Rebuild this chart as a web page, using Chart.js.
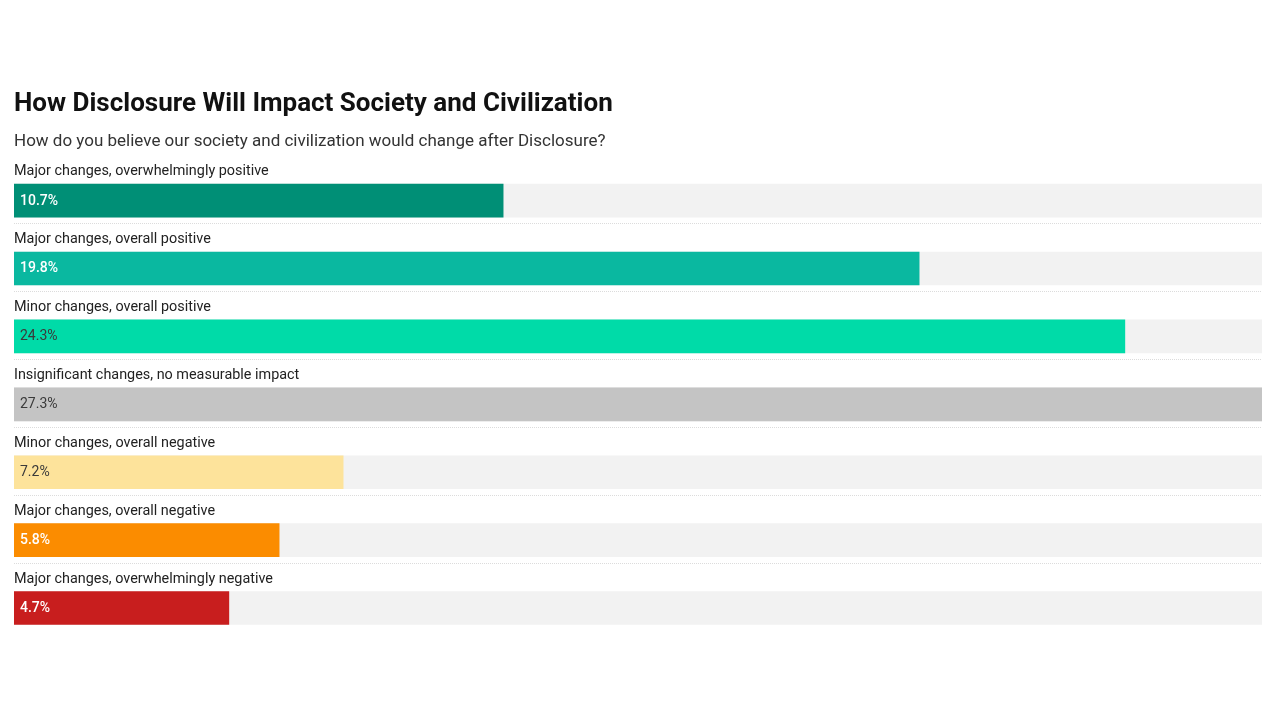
<!DOCTYPE html>
<html>
<head>
<meta charset="utf-8">
<script src="https://cdn.jsdelivr.net/npm/chart.js@4.4.1/dist/chart.umd.min.js"></script>
<style>
html,body{margin:0;padding:0;background:#fff;}
#wrap{position:relative;width:1280px;height:720px;}
</style>
</head>
<body>
<div id="wrap"><canvas id="c" width="1280" height="720"></canvas></div>
<script>
const categories = [
  "Major changes, overwhelmingly positive",
  "Major changes, overall positive",
  "Minor changes, overall positive",
  "Insignificant changes, no measurable impact",
  "Minor changes, overall negative",
  "Major changes, overall negative",
  "Major changes, overwhelmingly negative"
];
const values = [10.7, 19.8, 24.3, 27.3, 7.2, 5.8, 4.7];
const barColors = ["#008f76", "#0ab8a0", "#00dba8", "#c4c4c4", "#fde39b", "#fb8c00", "#c81e1e"];
const valueTextColors = ["#ffffff", "#ffffff", "#3a3a3a", "#3a3a3a", "#3a3a3a", "#ffffff", "#ffffff"];
const valueTextWeights = ["500", "500", "400", "400", "400", "500", "500"];

const maxValue = Math.max(...values);
const trackValues = categories.map(() => maxValue);

const rowPlugin = {
  id: 'rowDecor',
  afterDatasetsDraw(chart) {
    const ctx = chart.ctx;
    const y = chart.scales.y;
    const x = chart.scales.x;
    const area = chart.chartArea;
    ctx.save();
    categories.forEach((cat, i) => {
      const cy = y.getPixelForValue(i);
      ctx.font = '400 14.4px Roboto';
      ctx.fillStyle = '#222222';
      ctx.textAlign = 'left';
      ctx.textBaseline = 'middle';
      ctx.fillText(cat, area.left, cy - 29);
      ctx.font = valueTextWeights[i] + ' 14px Roboto';
      ctx.fillStyle = valueTextColors[i];
      ctx.fillText(values[i].toFixed(1) + '%', x.getPixelForValue(0) + 6, cy + 0.5);
      if (i < categories.length - 1) {
        ctx.strokeStyle = '#dcdcdc';
        ctx.lineWidth = 1;
        ctx.setLineDash([1, 1]);
        ctx.beginPath();
        ctx.moveTo(area.left, Math.round(cy + 22.5) + 0.5);
        ctx.lineTo(area.right, Math.round(cy + 22.5) + 0.5);
        ctx.stroke();
      }
    });
    ctx.restore();
  }
};

new Chart(document.getElementById('c'), {
  type: 'bar',
  data: {
    labels: categories,
    datasets: [
      {
        data: values,
        backgroundColor: barColors,
        barThickness: 33,
        grouped: false,
        order: 0,
        borderWidth: 0
      },
      {
        data: trackValues,
        backgroundColor: '#f2f2f2',
        barThickness: 33,
        grouped: false,
        order: 1,
        borderWidth: 0
      }
    ]
  },
  options: {
    indexAxis: 'y',
    responsive: false,
    animation: false,
    devicePixelRatio: 1,
    layout: { padding: { left: 14, right: 18, top: 0, bottom: 78 } },
    scales: {
      x: { display: false, min: 0, max: maxValue },
      y: { display: false }
    },
    plugins: {
      legend: { display: false },
      tooltip: { enabled: false },
      title: {
        display: true,
        text: 'How Disclosure Will Impact Society and Civilization',
        align: 'start',
        color: '#111111',
        font: { family: 'Roboto', size: 26, weight: 'bold', lineHeight: 1.2 },
        padding: { top: 88.4, bottom: 6 }
      },
      subtitle: {
        display: true,
        text: 'How do you believe our society and civilization would change after Disclosure?',
        align: 'start',
        color: '#333333',
        font: { family: 'Roboto', size: 17, weight: 'normal', lineHeight: 1.2 },
        padding: { top: 6.2, bottom: 14.4 }
      }
    }
  },
  plugins: [rowPlugin]
});
</script>
</body>
</html>
